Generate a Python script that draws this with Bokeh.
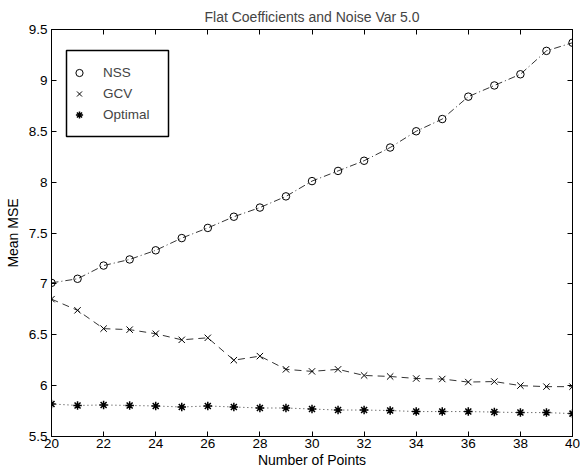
from bokeh.plotting import figure
from bokeh.models import (LinearAxis, FixedTicker, Legend, LegendItem,
                          BoxAnnotation, Range1d)
from bokeh.embed import file_html
from bokeh.resources import INLINE

# ---- data ----
n_points = [20, 21, 22, 23, 24, 25, 26, 27, 28, 29, 30,
            31, 32, 33, 34, 35, 36, 37, 38, 39, 40]
nss = [7.01, 7.05, 7.18, 7.24, 7.33, 7.45, 7.55, 7.66, 7.75, 7.86, 8.01,
       8.11, 8.21, 8.34, 8.50, 8.62, 8.84, 8.95, 9.06, 9.29, 9.37]
gcv = [6.85, 6.74, 6.56, 6.55, 6.51, 6.45, 6.47, 6.25, 6.29, 6.16, 6.14,
       6.16, 6.10, 6.09, 6.07, 6.065, 6.035, 6.04, 6.00, 5.99, 5.99]
optimal = [5.82, 5.805, 5.81, 5.805, 5.80, 5.79, 5.80, 5.79, 5.78, 5.78, 5.77,
           5.76, 5.76, 5.755, 5.745, 5.745, 5.745, 5.74, 5.735, 5.735, 5.725]
series_names = ["NSS", "GCV", "Optimal"]
x_ticks = [20, 22, 24, 26, 28, 30, 32, 34, 36, 38, 40]
y_ticks = [5.5, 6, 6.5, 7, 7.5, 8, 8.5, 9, 9.5]
y_tick_labels = ["5.5", "6", "6.5", "7", "7.5", "8", "8.5", "9", "9.5"]
title_text = "Flat Coefficients and Noise Var 5.0"

FONT = "Liberation Sans"

p = figure(width=580, height=474, output_backend="svg", toolbar_location=None,
           x_range=Range1d(20, 40), y_range=Range1d(5.5, 9.5),
           min_border_left=51, min_border_right=8, min_border_top=29,
           min_border_bottom=38, title=title_text)
p.title.align = "center"
p.title.text_font = FONT
p.title.text_font_size = "14px"
p.title.text_font_style = "normal"
p.title.standoff = 0
p.title.padding = 5
p.grid.visible = False
p.outline_line_color = "black"
p.background_fill_color = "white"
p.border_fill_color = "white"

bottom_axis = p.below[0]
left_axis = p.left[0]
bottom_axis.axis_label = "Number of Points"
left_axis.axis_label = "Mean MSE"
bottom_axis.ticker = FixedTicker(ticks=x_ticks)
left_axis.ticker = FixedTicker(ticks=y_ticks)
left_axis.major_label_overrides = {t: l for t, l in zip(y_ticks, y_tick_labels)}

top_axis = LinearAxis(ticker=FixedTicker(ticks=x_ticks))
right_axis = LinearAxis(ticker=FixedTicker(ticks=y_ticks))
for ax in (top_axis, right_axis):
    ax.major_label_overrides = {t: "" for t in x_ticks + y_ticks}
    ax.major_label_text_font_size = "0px"
    ax.major_label_standoff = 0
p.add_layout(top_axis, "above")
p.add_layout(right_axis, "right")

for ax in [bottom_axis, left_axis, top_axis, right_axis]:
    ax.major_tick_in = 5
    ax.major_tick_out = 0
    ax.minor_tick_line_color = None
    ax.axis_line_color = "black"
    ax.major_tick_line_color = "black"
    ax.major_label_text_font = FONT
    ax.major_label_text_color = "black"
    ax.axis_label_text_font = FONT
    ax.axis_label_text_font_style = "normal"
    ax.axis_label_text_font_size = "14px"
    ax.axis_label_text_color = "black"
for ax in [bottom_axis, left_axis]:
    ax.major_label_text_font_size = "13.5px"
bottom_axis.major_label_standoff = 2
bottom_axis.axis_label_standoff = 1
left_axis.major_label_standoff = 4
left_axis.axis_label_standoff = 5

# lines
p.line(n_points, nss, line_color="black", line_width=0.8, line_dash="7 3 1 3")
p.line(n_points, gcv, line_color="black", line_width=0.8, line_dash="7 5")
p.line(n_points, optimal, line_color="black", line_width=0.8, line_dash="1 3")

# markers
r1 = p.scatter(n_points, nss, marker="circle", size=7.5, fill_color=None,
               line_color="black", line_width=1)
r2 = p.scatter(n_points, gcv, marker="x", size=9, line_color="black", line_width=1)
r3 = p.scatter(n_points, optimal, marker="asterisk", size=8.5, line_color="black",
               line_width=1.5)

# legend frame
box = BoxAnnotation(left=15, right=117, top=386, bottom=300,
                    left_units="screen", right_units="screen",
                    top_units="screen", bottom_units="screen",
                    fill_color="white", fill_alpha=1, line_color="black",
                    line_width=1.5, line_alpha=1)
p.add_layout(box)

legend = Legend(items=[LegendItem(label=series_names[0], renderers=[r1]),
                       LegendItem(label=series_names[1], renderers=[r2]),
                       LegendItem(label=series_names[2], renderers=[r3])],
                location=(19, 311), padding=0, spacing=0,
                glyph_width=18, glyph_height=21, label_height=21,
                label_standoff=15, border_line_alpha=0,
                background_fill_alpha=0, label_text_font=FONT,
                label_text_font_size="13.5px", margin=0)
p.add_layout(legend)

open("out.html", "w").write(file_html(p, INLINE))
